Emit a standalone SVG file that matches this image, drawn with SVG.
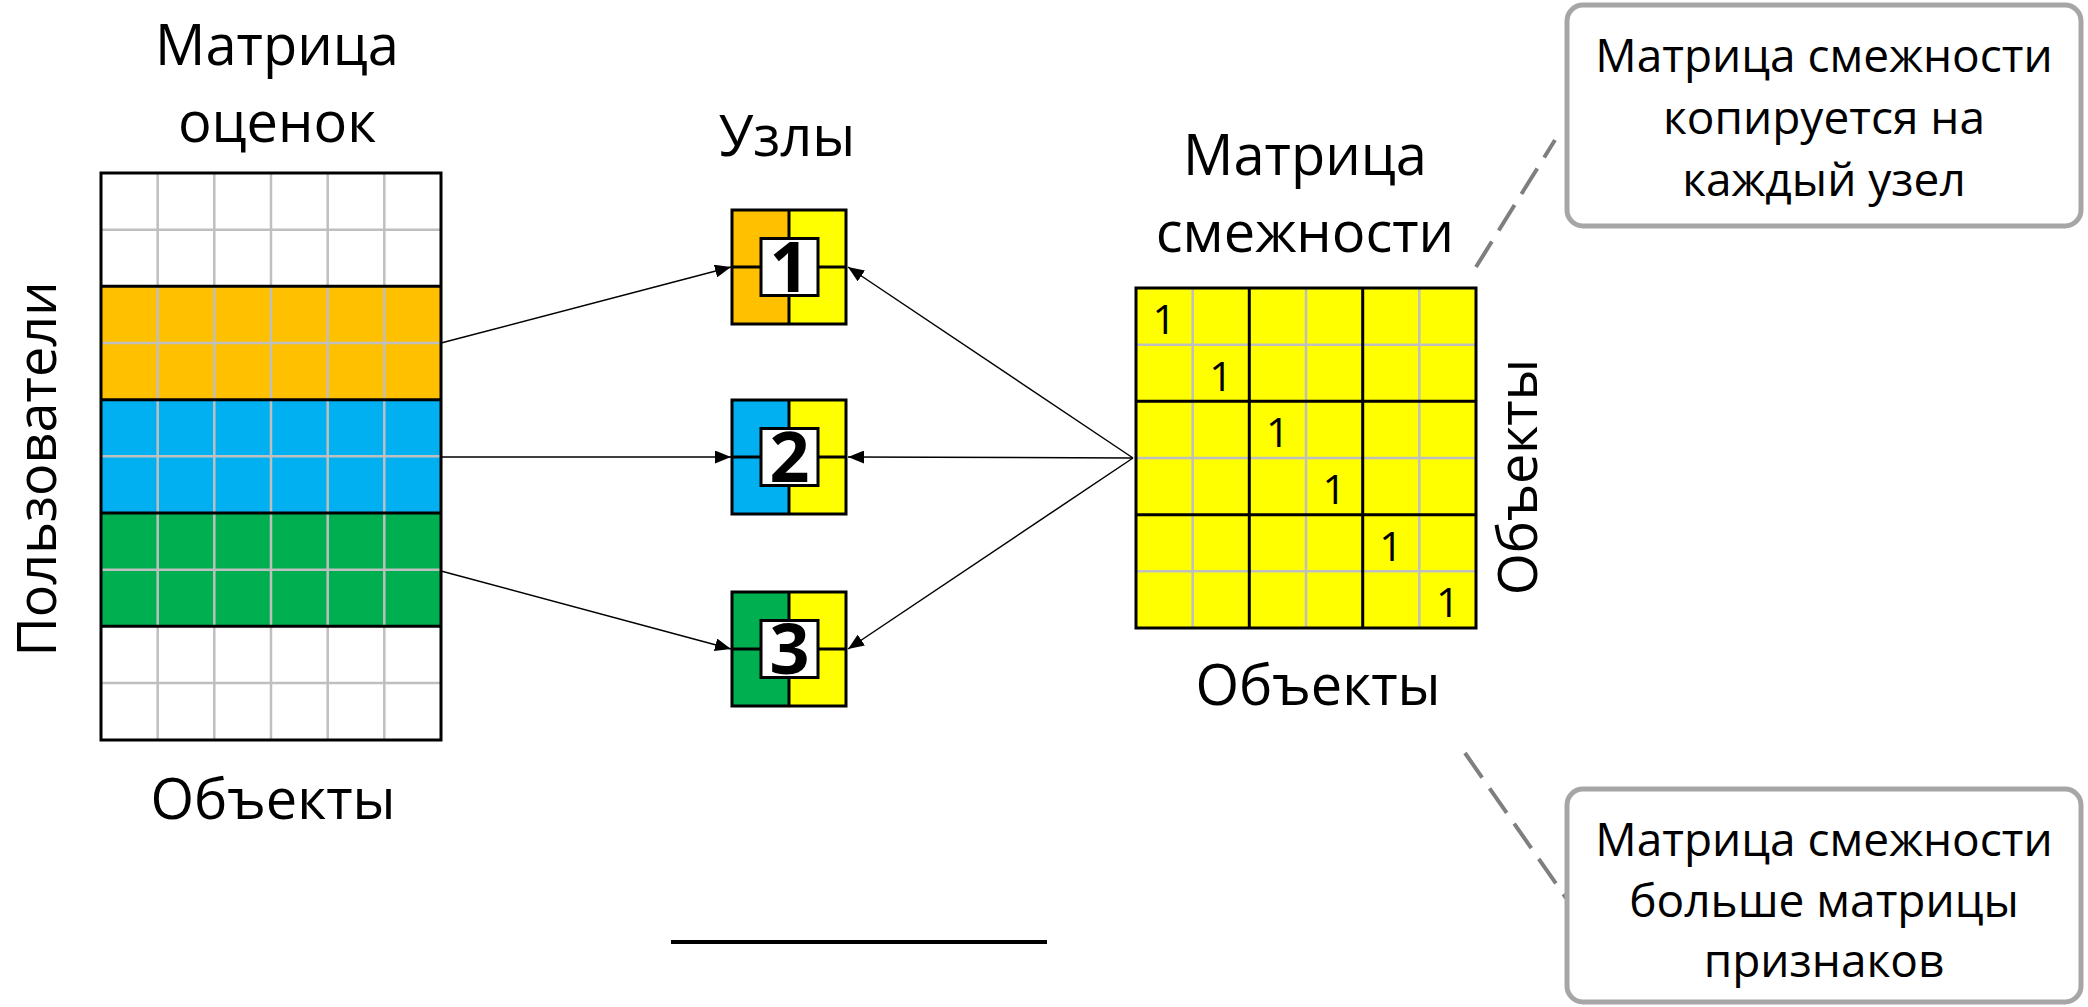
<svg xmlns="http://www.w3.org/2000/svg" width="2088" height="1007" viewBox="0 0 2088 1007">
  <defs>
    <style>
      text { font-family: "Open Sans", "Noto Sans", "Liberation Sans", sans-serif; fill: #000; }
      .title { font-size: 56px; text-anchor: middle; }
      .side { font-size: 54px; text-anchor: middle; }
      .note { font-size: 46px; text-anchor: middle; }
      .one { font-size: 41px; text-anchor: middle; }
      .num { font-size: 70px; font-weight: bold; text-anchor: middle; }
      .grid { stroke: #BFBFBF; stroke-width: 2.5; fill: none; }
      .thick { stroke: #000; stroke-width: 3; fill: none; }
      .edge { stroke: #000; stroke-width: 1.5; fill: none; marker-end: url(#arrow); }
      .callout { fill: #fff; stroke: #A6A6A6; stroke-width: 5; }
      .lead { stroke: #7F7F7F; stroke-width: 4; stroke-dasharray: 30 13; fill: none; }
      .orange { fill: #FFC000; }
      .blue { fill: #00B0F0; }
      .green { fill: #00B050; }
      .yellow { fill: #FFFF00; }
    </style>
    <marker id="arrow" markerUnits="userSpaceOnUse" markerWidth="16" markerHeight="13" refX="16" refY="6.5" orient="auto">
      <path d="M0,0 L16,6.5 L0,13 z" fill="#000"/>
    </marker>
  </defs>

  <rect width="2088" height="1007" fill="#fff"/>

  <!-- Ratings matrix: users x objects, three bands sent to the nodes -->
  <g id="ratings-matrix">
    <text class="title" x="277" y="65">Матрица</text>
    <text class="title" x="277" y="142">оценок</text>
    <text class="side" transform="translate(56,469) rotate(-90)">Пользователи</text>
    <text class="title" x="273" y="819">Объекты</text>
    <rect x="101" y="173" width="340" height="113.3" fill="#fff"/>
    <rect x="101" y="286.3" width="340" height="113.3" class="orange"/>
    <rect x="101" y="399.7" width="340" height="113.3" class="blue"/>
    <rect x="101" y="513" width="340" height="113.3" class="green"/>
    <rect x="101" y="626.3" width="340" height="113.7" fill="#fff"/>
    <path class="grid" d="M157.7,173V740 M214.3,173V740 M271,173V740 M327.7,173V740 M384.3,173V740
                          M101,229.7H441 M101,343H441 M101,456.3H441 M101,569.7H441 M101,683H441"/>
    <path class="thick" d="M101,286.3H441 M101,399.7H441 M101,513H441 M101,626.3H441"/>
    <rect x="101" y="173" width="340" height="567" class="thick"/>
  </g>

  <text class="title" x="787" y="156">Узлы</text>

  <!-- Worker nodes: left half holds the band, right half the adjacency copy -->
  <g id="node-1">
    <rect x="732" y="210" width="57" height="114" class="orange"/>
    <rect x="789" y="210" width="57" height="114" class="yellow"/>
    <path class="thick" d="M789,210V324 M732,267H846"/>
    <rect x="732" y="210" width="114" height="114" class="thick"/>
    <rect x="761" y="238.5" width="57" height="57" fill="#fff" stroke="#000" stroke-width="3"/>
    <text class="num" x="789.5" y="292">1</text>
  </g>
  <g id="node-2">
    <rect x="732" y="400" width="57" height="114" class="blue"/>
    <rect x="789" y="400" width="57" height="114" class="yellow"/>
    <path class="thick" d="M789,400V514 M732,457H846"/>
    <rect x="732" y="400" width="114" height="114" class="thick"/>
    <rect x="761" y="428.5" width="57" height="57" fill="#fff" stroke="#000" stroke-width="3"/>
    <text class="num" x="789.5" y="482">2</text>
  </g>
  <g id="node-3">
    <rect x="732" y="592" width="57" height="114" class="green"/>
    <rect x="789" y="592" width="57" height="114" class="yellow"/>
    <path class="thick" d="M789,592V706 M732,649H846"/>
    <rect x="732" y="592" width="114" height="114" class="thick"/>
    <rect x="761" y="620.5" width="57" height="57" fill="#fff" stroke="#000" stroke-width="3"/>
    <text class="num" x="789.5" y="674">3</text>
  </g>

  <!-- Adjacency matrix: identity, 3x3 blocks of 2x2 cells -->
  <g id="adjacency-matrix">
    <text class="title" x="1305" y="175">Матрица</text>
    <text class="title" x="1305" y="252">смежности</text>
    <rect x="1136" y="288" width="340" height="340" class="yellow"/>
    <path class="grid" d="M1192.7,288V628 M1306,288V628 M1419.3,288V628
                          M1136,344.7H1476 M1136,458H1476 M1136,571.3H1476"/>
    <path class="thick" d="M1249.3,288V628 M1362.7,288V628 M1136,401.3H1476 M1136,514.7H1476"/>
    <rect x="1136" y="288" width="340" height="340" class="thick"/>
    <text class="one" x="1164.3" y="334">1</text>
    <text class="one" x="1221" y="390.7">1</text>
    <text class="one" x="1277.7" y="447.3">1</text>
    <text class="one" x="1334.3" y="504">1</text>
    <text class="one" x="1391" y="560.7">1</text>
    <text class="one" x="1447.7" y="617.3">1</text>
    <text class="side" transform="translate(1537,477) rotate(-90)">Объекты</text>
    <text class="title" x="1318" y="705">Объекты</text>
  </g>

  <!-- Data flow arrows -->
  <g id="connectors">
    <line class="edge" x1="441" y1="343" x2="731" y2="267"/>
    <line class="edge" x1="441" y1="457" x2="731" y2="457"/>
    <line class="edge" x1="441" y1="571" x2="731" y2="649"/>
    <line class="edge" x1="1133" y1="458" x2="848" y2="267"/>
    <line class="edge" x1="1133" y1="458" x2="848" y2="457"/>
    <line class="edge" x1="1133" y1="458" x2="848" y2="649"/>
    <line class="lead" x1="1476" y1="267" x2="1555" y2="140"/>
    <line class="lead" x1="1465" y1="753" x2="1566" y2="898"/>
  </g>

  <!-- Notes -->
  <g id="callout-copy">
    <rect x="1567" y="5" width="514" height="221" rx="16" class="callout"/>
    <text class="note" x="1824" y="72">Матрица смежности</text>
    <text class="note" x="1824" y="134">копируется на</text>
    <text class="note" x="1824" y="196">каждый узел</text>
  </g>
  <g id="callout-size">
    <rect x="1567" y="789" width="514" height="213" rx="16" class="callout"/>
    <text class="note" x="1824" y="856">Матрица смежности</text>
    <text class="note" x="1824" y="917">больше матрицы</text>
    <text class="note" x="1824" y="977">признаков</text>
  </g>

  <line id="rule" x1="671" y1="942" x2="1047" y2="942" stroke="#000" stroke-width="4"/>
</svg>
